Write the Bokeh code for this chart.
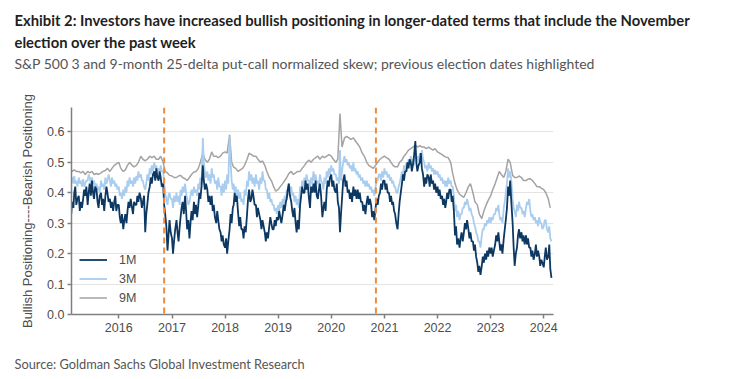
import pandas as pd
from bokeh.plotting import figure
from bokeh.models import (Range1d, Span, Title, Legend, LegendItem, FixedTicker,
                          DatetimeTickFormatter, NumeralTickFormatter, ColumnDataSource)
from bokeh.embed import file_html
from bokeh.resources import INLINE

# ---------------- data, Feb 2015 .. Feb 2024 ----------------
first_month = "2015-02"
last_month = "2024-02"
weekly_days = [1, 8, 15, 23]      # 1M / 3M readings: four per month
semi_days = [1, 15]               # 9M readings: two per month

skew_1m = [
    # 2015 (Feb..Dec)
    0.41, 0.33, 0.37, 0.35,  0.40, 0.42, 0.36, 0.38,  0.39, 0.34, 0.37, 0.35,
    0.38, 0.41, 0.39, 0.42,  0.36, 0.40, 0.43, 0.39,  0.44, 0.40, 0.38, 0.42,
    0.41, 0.37, 0.35, 0.39,  0.40, 0.36, 0.38, 0.34,  0.39, 0.42, 0.40, 0.37,
    0.38, 0.35, 0.37, 0.34,  0.37, 0.39, 0.34, 0.36,
    # 2016
    0.36, 0.32, 0.30, 0.33,  0.28, 0.31, 0.33, 0.30,  0.34, 0.37, 0.35, 0.38,
    0.35, 0.33, 0.37, 0.36,  0.36, 0.39, 0.37, 0.40,  0.38, 0.35, 0.37, 0.39,
    0.27, 0.33, 0.36, 0.40,  0.42, 0.45, 0.43, 0.46,  0.47, 0.44, 0.48, 0.45,
    0.44, 0.47, 0.45, 0.42,  0.43, 0.36, 0.33, 0.29,  0.21, 0.26, 0.31, 0.27,
    # 2017
    0.25, 0.20, 0.24, 0.28,  0.31, 0.27, 0.24, 0.29,  0.32, 0.35, 0.37, 0.33,
    0.39, 0.34, 0.28, 0.31,  0.25, 0.30, 0.34, 0.31,  0.37, 0.33, 0.36, 0.32,
    0.36, 0.40, 0.38, 0.42,  0.49, 0.44, 0.41, 0.43,  0.41, 0.37, 0.39, 0.36,
    0.39, 0.34, 0.36, 0.32,  0.30, 0.34, 0.31, 0.28,  0.27, 0.24, 0.26, 0.23,
    # 2018
    0.22, 0.25, 0.20, 0.24,  0.28, 0.33, 0.30, 0.35,  0.36, 0.40, 0.37, 0.39,
    0.33, 0.29, 0.32, 0.28,  0.28, 0.25, 0.29, 0.27,  0.33, 0.38, 0.41, 0.37,
    0.38, 0.41, 0.39, 0.36,  0.36, 0.32, 0.35, 0.33,  0.31, 0.28, 0.31, 0.29,
    0.27, 0.24, 0.27, 0.25,  0.29, 0.32, 0.30, 0.28,  0.28, 0.31, 0.29, 0.32,
    # 2019
    0.31, 0.34, 0.32, 0.30,  0.33, 0.36, 0.34, 0.37,  0.38, 0.41, 0.43, 0.39,
    0.37, 0.34, 0.32, 0.35,  0.30, 0.27, 0.31, 0.28,  0.36, 0.39, 0.42, 0.40,
    0.40, 0.44, 0.41, 0.43,  0.38, 0.35, 0.42, 0.40,  0.43, 0.40, 0.44, 0.39,
    0.38, 0.41, 0.43, 0.39,  0.32, 0.35, 0.37, 0.34,  0.41, 0.44, 0.42, 0.45,
    # 2020
    0.46, 0.42, 0.44, 0.41,  0.40, 0.43, 0.37, 0.35,  0.27, 0.33, 0.38, 0.44,
    0.46, 0.42, 0.44, 0.40,  0.41, 0.38, 0.40, 0.37,  0.42, 0.39, 0.41, 0.38,
    0.41, 0.38, 0.40, 0.37,  0.37, 0.34, 0.36, 0.33,  0.37, 0.39, 0.36, 0.38,
    0.36, 0.32, 0.34, 0.31,  0.35, 0.38, 0.36, 0.39,  0.40, 0.43, 0.41, 0.44,
    # 2021
    0.44, 0.41, 0.43, 0.40,  0.40, 0.37, 0.39, 0.36,  0.37, 0.34, 0.33, 0.30,
    0.28, 0.33, 0.37, 0.40,  0.43, 0.46, 0.44, 0.47,  0.47, 0.50, 0.48, 0.51,
    0.50, 0.47, 0.49, 0.52,  0.57, 0.50, 0.47, 0.49,  0.50, 0.53, 0.48, 0.46,
    0.42, 0.45, 0.43, 0.46,  0.45, 0.42, 0.46, 0.43,  0.44, 0.41, 0.43, 0.40,
    # 2022
    0.42, 0.39, 0.41, 0.38,  0.39, 0.36, 0.38, 0.35,  0.37, 0.40, 0.38, 0.41,
    0.41, 0.37, 0.39, 0.34,  0.26, 0.29, 0.23, 0.25,  0.22, 0.25, 0.27, 0.24,
    0.27, 0.30, 0.28, 0.31,  0.28, 0.25, 0.27, 0.24,  0.24, 0.21, 0.23, 0.19,
    0.17, 0.14, 0.16, 0.13,  0.16, 0.19, 0.17, 0.20,  0.18, 0.21, 0.19, 0.22,
    # 2023
    0.20, 0.22, 0.19, 0.21,  0.23, 0.26, 0.24, 0.27,  0.24, 0.21, 0.23, 0.20,
    0.25, 0.28, 0.31, 0.35,  0.42, 0.39, 0.44, 0.37,  0.30, 0.22, 0.16, 0.20,
    0.22, 0.26, 0.28, 0.25,  0.27, 0.24, 0.26, 0.23,  0.26, 0.23, 0.25, 0.22,
    0.22, 0.19, 0.21, 0.18,  0.20, 0.23, 0.19, 0.21,  0.19, 0.16, 0.18, 0.17,
    # 2024 (Jan..Feb)
    0.155, 0.19, 0.22, 0.18,  0.19, 0.23, 0.15, 0.12,
]

skew_3m = [
    # 2015 (Feb..Dec)
    0.46, 0.44, 0.45, 0.43,  0.455, 0.43, 0.44, 0.42,  0.45, 0.43, 0.44, 0.42,
    0.445, 0.42, 0.43, 0.44,  0.44, 0.46, 0.45, 0.43,  0.45, 0.43, 0.44, 0.42,
    0.43, 0.41, 0.42, 0.40,  0.44, 0.42, 0.43, 0.41,  0.45, 0.43, 0.44, 0.46,
    0.44, 0.42, 0.45, 0.43,  0.44, 0.42, 0.43, 0.41,
    # 2016
    0.42, 0.39, 0.40, 0.38,  0.41, 0.39, 0.42, 0.40,  0.44, 0.42, 0.45, 0.43,
    0.44, 0.42, 0.45, 0.43,  0.455, 0.44, 0.47, 0.45,  0.46, 0.44, 0.44, 0.42,
    0.41, 0.43, 0.46, 0.44,  0.48, 0.46, 0.49, 0.47,  0.50, 0.48, 0.49, 0.47,
    0.48, 0.46, 0.49, 0.47,  0.47, 0.43, 0.40, 0.38,  0.36, 0.39, 0.40, 0.38,
    # 2017
    0.38, 0.35, 0.39, 0.37,  0.40, 0.37, 0.39, 0.36,  0.41, 0.39, 0.42, 0.40,
    0.43, 0.40, 0.38, 0.36,  0.37, 0.39, 0.41, 0.39,  0.42, 0.40, 0.41, 0.39,
    0.43, 0.41, 0.45, 0.43,  0.58, 0.50, 0.47, 0.45,  0.47, 0.44, 0.46, 0.43,
    0.48, 0.45, 0.46, 0.43,  0.44, 0.41, 0.45, 0.42,  0.42, 0.39, 0.43, 0.40,
    # 2018
    0.44, 0.41, 0.46, 0.43,  0.585, 0.50, 0.44, 0.41,  0.43, 0.40, 0.42, 0.39,
    0.41, 0.38, 0.40, 0.37,  0.38, 0.36, 0.41, 0.39,  0.44, 0.42, 0.47, 0.44,
    0.46, 0.43, 0.45, 0.42,  0.46, 0.43, 0.44, 0.41,  0.45, 0.43, 0.47, 0.44,
    0.44, 0.41, 0.41, 0.38,  0.40, 0.37, 0.38, 0.36,  0.36, 0.34, 0.35, 0.33,
    # 2019
    0.36, 0.34, 0.37, 0.35,  0.38, 0.36, 0.39, 0.37,  0.41, 0.39, 0.43, 0.41,
    0.42, 0.39, 0.40, 0.37,  0.39, 0.36, 0.38, 0.35,  0.42, 0.40, 0.44, 0.42,
    0.45, 0.43, 0.46, 0.44,  0.44, 0.41, 0.45, 0.43,  0.47, 0.44, 0.46, 0.43,
    0.44, 0.42, 0.46, 0.44,  0.43, 0.41, 0.45, 0.43,  0.47, 0.45, 0.48, 0.46,
    # 2020
    0.49, 0.47, 0.48, 0.46,  0.46, 0.44, 0.45, 0.43,  0.54, 0.44, 0.47, 0.50,
    0.52, 0.50, 0.51, 0.49,  0.50, 0.48, 0.49, 0.47,  0.50, 0.47, 0.48, 0.46,
    0.47, 0.45, 0.46, 0.44,  0.45, 0.43, 0.44, 0.42,  0.44, 0.42, 0.43, 0.41,
    0.42, 0.40, 0.41, 0.39,  0.42, 0.44, 0.44, 0.46,  0.46, 0.44, 0.47, 0.45,
    # 2021
    0.48, 0.46, 0.47, 0.45,  0.46, 0.44, 0.45, 0.43,  0.44, 0.42, 0.42, 0.40,
    0.40, 0.42, 0.43, 0.45,  0.47, 0.45, 0.49, 0.47,  0.50, 0.48, 0.51, 0.49,
    0.52, 0.50, 0.51, 0.49,  0.54, 0.51, 0.52, 0.50,  0.53, 0.51, 0.54, 0.51,
    0.50, 0.48, 0.49, 0.47,  0.50, 0.48, 0.49, 0.47,  0.48, 0.46, 0.475, 0.46,
    # 2022
    0.47, 0.45, 0.46, 0.44,  0.45, 0.43, 0.44, 0.42,  0.44, 0.42, 0.45, 0.43,
    0.44, 0.42, 0.42, 0.39,  0.34, 0.36, 0.32, 0.34,  0.31, 0.33, 0.33, 0.35,
    0.35, 0.37, 0.36, 0.38,  0.36, 0.34, 0.35, 0.33,  0.32, 0.30, 0.29, 0.27,
    0.26, 0.24, 0.24, 0.22,  0.26, 0.28, 0.28, 0.30,  0.29, 0.31, 0.30, 0.32,
    # 2023
    0.30, 0.32, 0.31, 0.33,  0.33, 0.35, 0.34, 0.36,  0.33, 0.31, 0.32, 0.30,
    0.35, 0.37, 0.40, 0.43,  0.48, 0.45, 0.47, 0.44,  0.38, 0.35, 0.34, 0.32,
    0.36, 0.34, 0.37, 0.35,  0.35, 0.33, 0.34, 0.32,  0.35, 0.37, 0.36, 0.38,
    0.34, 0.32, 0.33, 0.31,  0.32, 0.30, 0.31, 0.29,  0.32, 0.30, 0.30, 0.28,
    # 2024 (Jan..Feb)
    0.29, 0.31, 0.31, 0.28,  0.27, 0.29, 0.25, 0.24,
]

skew_9m = [
    # 2015
    0.48, 0.47, 0.475, 0.47, 0.47, 0.465, 0.47, 0.46, 0.47, 0.465, 0.47, 0.46,
    0.463, 0.46, 0.465, 0.47, 0.473, 0.48, 0.47, 0.48, 0.49, 0.495,
    # 2016
    0.50, 0.48, 0.47, 0.475, 0.49, 0.50, 0.49, 0.485, 0.49, 0.50, 0.52, 0.51,
    0.505, 0.51, 0.52, 0.515, 0.52, 0.51, 0.51, 0.52, 0.50, 0.47, 0.465, 0.457,
    # 2017
    0.455, 0.45, 0.45, 0.455, 0.457, 0.45, 0.446, 0.44, 0.45, 0.46, 0.468, 0.47,
    0.48, 0.50, 0.53, 0.51, 0.50, 0.51, 0.534, 0.52, 0.52, 0.515, 0.52, 0.53,
    # 2018
    0.534, 0.53, 0.59, 0.50, 0.484, 0.48, 0.47, 0.475, 0.48, 0.49, 0.51, 0.53,
    0.525, 0.52, 0.52, 0.51, 0.50, 0.505, 0.49, 0.47, 0.45, 0.44, 0.42, 0.405,
    # 2019
    0.41, 0.42, 0.43, 0.44, 0.45, 0.463, 0.47, 0.46, 0.465, 0.47, 0.47, 0.48,
    0.49, 0.50, 0.507, 0.50, 0.51, 0.515, 0.52, 0.51, 0.52, 0.515, 0.52, 0.525,
    # 2020
    0.52, 0.51, 0.50, 0.51, 0.66, 0.55, 0.58, 0.585, 0.58, 0.575, 0.58, 0.57,
    0.56, 0.55, 0.53, 0.52, 0.50, 0.49, 0.485, 0.48, 0.49, 0.50, 0.51, 0.515,
    # 2021
    0.52, 0.515, 0.51, 0.50, 0.49, 0.485, 0.485, 0.50, 0.507, 0.52, 0.53, 0.54,
    0.545, 0.55, 0.556, 0.55, 0.555, 0.55, 0.55, 0.545, 0.55, 0.545, 0.54, 0.545,
    # 2022
    0.534, 0.53, 0.525, 0.52, 0.517, 0.515, 0.50, 0.463, 0.43, 0.41, 0.395, 0.39,
    0.385, 0.40, 0.42, 0.43, 0.40, 0.37, 0.36, 0.33, 0.315, 0.34, 0.36, 0.375,
    # 2023
    0.39, 0.41, 0.43, 0.45, 0.47, 0.46, 0.45, 0.47, 0.51, 0.50, 0.457, 0.45,
    0.45, 0.455, 0.45, 0.44, 0.44, 0.445, 0.446, 0.44, 0.43, 0.42, 0.42, 0.415,
    # 2024
    0.41, 0.40, 0.38, 0.35,
]

series_names = ["1M", "3M", "9M"]
election_dates = ["2016-11-08", "2020-11-03"]
year_ticks = [2016, 2017, 2018, 2019, 2020, 2021, 2022, 2023, 2024]
y_ticks = [0.0, 0.1, 0.2, 0.3, 0.4, 0.5, 0.6]

title_line1 = "Exhibit 2: Investors have increased bullish positioning in longer-dated terms that include the November"
title_line2 = "election over the past week"
subtitle = "S&P 500 3 and 9-month 25-delta put-call normalized skew; previous election dates highlighted"
source_text = "Source: Goldman Sachs Global Investment Research"
y_label = "Bullish Positioning----Bearish Positioning"

# ---------------- build ----------------
months = pd.period_range(first_month, last_month, freq="M")
dates_w = [pd.Timestamp(year=m.year, month=m.month, day=d) for m in months for d in weekly_days]
dates_s = [pd.Timestamp(year=m.year, month=m.month, day=d) for m in months for d in semi_days]
src_w = ColumnDataSource(dict(date=dates_w, m1=skew_1m, m3=skew_3m))
src_s = ColumnDataSource(dict(date=dates_s, m9=skew_9m))

NAVY = "#0d3862"
LIGHT = "#a9cdee"
GREY = "#a3a3a3"
TXT = "#4d4d4d"
FONT = "Liberation Sans"
TFONT = "Lato"

p = figure(width=743, height=379, x_axis_type="datetime",
           output_backend="svg", toolbar_location=None,
           x_range=Range1d(pd.Timestamp("2015-02-10"), pd.Timestamp("2024-03-08")),
           y_range=Range1d(0, 0.68),
           min_border_left=71, min_border_right=190, min_border_top=107, min_border_bottom=65)
p.outline_line_color = None
p.background_fill_color = "white"

r9 = p.line("date", "m9", source=src_s, color=GREY, line_width=1.5)
r3 = p.line("date", "m3", source=src_w, color=LIGHT, line_width=1.8)
r1 = p.line("date", "m1", source=src_w, color=NAVY, line_width=1.8)

for d in election_dates:
    p.add_layout(Span(location=pd.Timestamp(d).value / 1e6, dimension="height",
                      line_color="#f08a3c", line_width=2, line_dash="6 4"))

# axes
p.xaxis.ticker = FixedTicker(ticks=[pd.Timestamp(f"{y}-01-01").value / 1e6 for y in year_ticks])
fmt = "%Y"
p.xaxis.formatter = DatetimeTickFormatter(years=fmt, months=fmt, days=fmt, hours=fmt,
                                          minutes=fmt, seconds=fmt, milliseconds=fmt, microseconds=fmt)
p.yaxis.ticker = FixedTicker(ticks=y_ticks)
p.yaxis.formatter = NumeralTickFormatter(format="0.0")
for ax in (p.xaxis, p.yaxis):
    ax.axis_line_color = "#7f7f7f"
    ax.axis_line_width = 1.5
    ax.major_tick_line_color = "#7f7f7f"
    ax.major_tick_line_width = 1.5
    ax.major_tick_out = 4
    ax.major_tick_in = 0
    ax.minor_tick_line_color = None
    ax.major_label_text_font = FONT
    ax.major_label_text_font_size = "12.5px"
    ax.major_label_text_color = TXT
p.yaxis.major_label_standoff = 3
p.xaxis.major_label_standoff = 4
p.yaxis.axis_label = y_label
p.yaxis.axis_label_text_font = FONT
p.yaxis.axis_label_text_font_size = "13px"
p.yaxis.axis_label_text_font_style = "normal"
p.yaxis.axis_label_text_color = TXT
p.yaxis.axis_label_standoff = 9

p.xgrid.grid_line_color = None
p.ygrid.grid_line_color = "#e3e3e3"
p.ygrid.grid_line_width = 1.2

# legend
legend = Legend(items=[LegendItem(label=series_names[0], renderers=[r1]),
                       LegendItem(label=series_names[1], renderers=[r3]),
                       LegendItem(label=series_names[2], renderers=[r9])],
                location=(4, 4), orientation="vertical",
                background_fill_alpha=0, border_line_alpha=0,
                label_text_font=FONT, label_text_font_size="12.5px", label_text_color=TXT,
                glyph_width=28, glyph_height=17, label_height=17, spacing=2,
                label_standoff=12, padding=4, margin=0)
p.add_layout(legend, "center")

# titles above (stacked outward from the frame: spacer, subtitle, line 2, line 1)
def title(text, size, style, color, standoff):
    return Title(text=text, align="left", offset=-57, text_font=TFONT,
                 text_font_size=size, text_font_style=style, text_color=color,
                 standoff=standoff)

p.add_layout(title(" ", "2px", "normal", "#ffffff", 30), "above")
p.add_layout(title(subtitle, "14px", "normal", "#555555", 4), "above")
p.add_layout(title(title_line2, "14.8px", "bold", "#1f1f1f", 0), "above")
p.add_layout(title(title_line1, "14.8px", "bold", "#1f1f1f", 3), "above")

# source below (spacer first, then the text)
p.add_layout(title(" ", "2px", "normal", "#ffffff", 14), "below")
p.add_layout(title(source_text, "12.8px", "normal", "#555555", 2), "below")

open("out.html", "w").write(file_html(p, INLINE))
